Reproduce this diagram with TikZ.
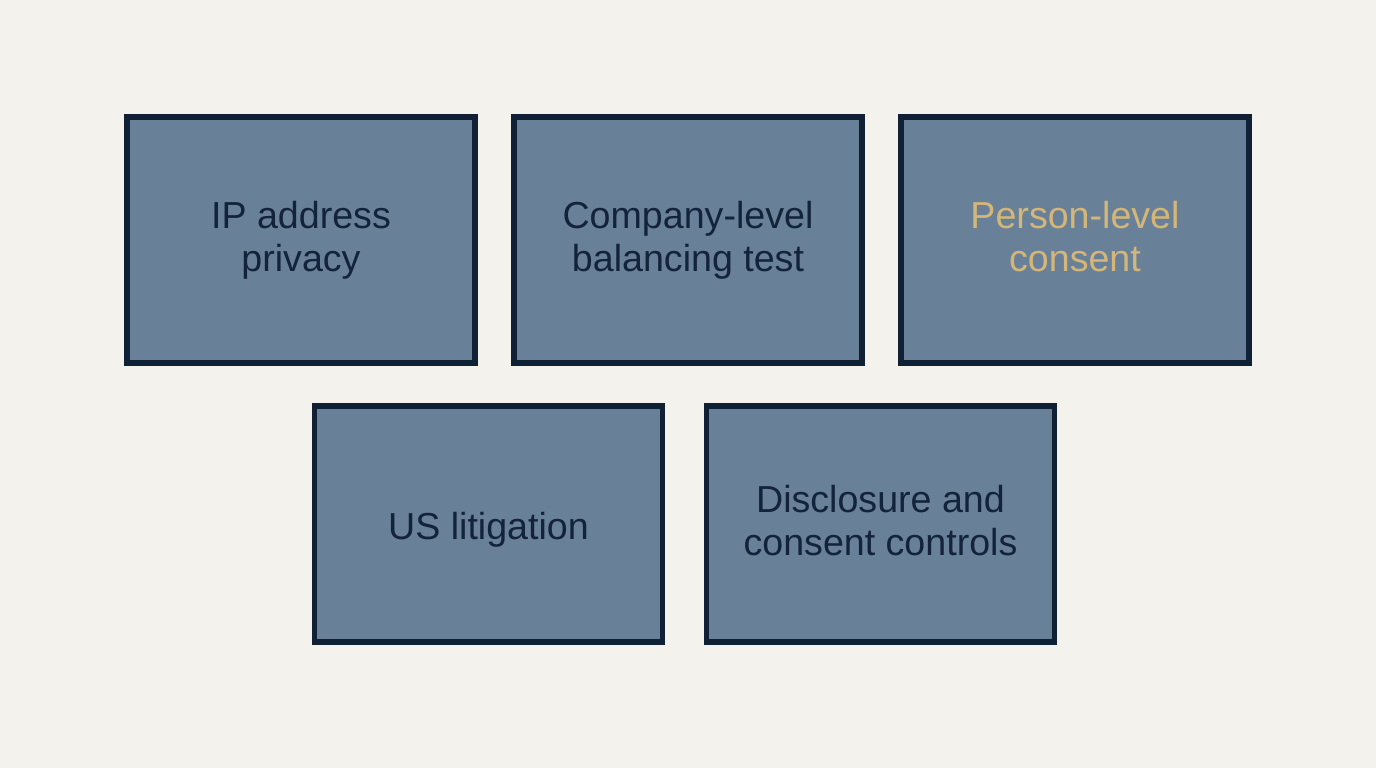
\documentclass[tikz,border=0pt]{standalone}
\usepackage{fontspec}
\setmainfont{Liberation Sans}
\usepackage{xcolor}
\usepackage{tikz}
\usetikzlibrary{positioning}
\definecolor{paperbg}{RGB}{244, 242, 236}
\definecolor{slatefill}{RGB}{104, 128, 152}
\definecolor{navyline}{RGB}{16, 33, 54}
\definecolor{navytext}{RGB}{19, 35, 58}
\definecolor{goldtext}{RGB}{212, 182, 120}

\begin{document}
\begin{tikzpicture}[
    topic/.style={draw=navyline, line width=1.7pt, fill=slatefill, outer sep=0pt,
                  minimum width=3.48cm, minimum height=2.46cm, align=center,
                  text=navytext, font=\fontsize{10.7}{12.3}\selectfont,
                  execute at begin node={\vrule width 0pt height 11pt},
                  execute at end node={\vrule width 0pt depth 2pt}},
    lowtopic/.style={topic, minimum height=2.36cm}
]
    % canvas
    \fill[paperbg] (0,0) rectangle (13.76,-7.68);
    \useasboundingbox (0,0) rectangle (13.76,-7.68);

    % Top row
    \node[topic] (ipaddr) at (3.01,-2.40) {IP address\\privacy};
    \node[topic, right=0.39cm of ipaddr] (balance) {Company-level\\balancing test};
    \node[topic, text=goldtext, right=0.39cm of balance] (consent) {Person-level\\consent};

    % Bottom row
    \node[lowtopic] (litig) at (4.885,-5.24) {US litigation};
    \node[lowtopic, right=0.44cm of litig] (controls) {Disclosure and\\consent controls};
\end{tikzpicture}
\end{document}
